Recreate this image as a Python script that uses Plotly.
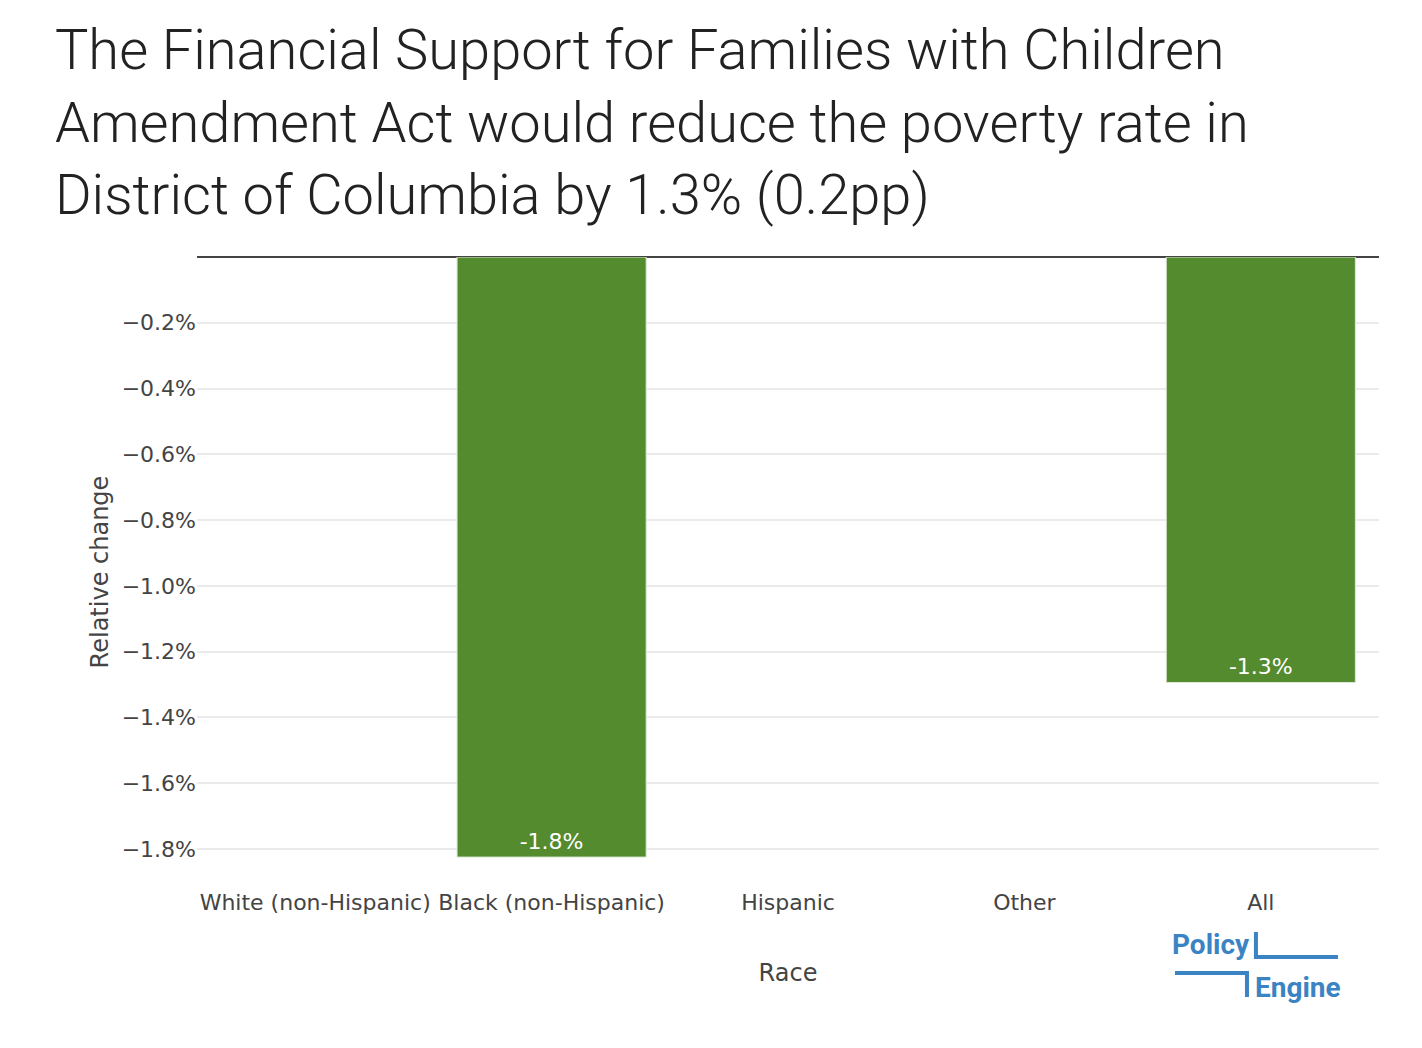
import plotly.graph_objects as go

# poverty rate relative change by race (fractions)
races = ["White (non-Hispanic)", "Black (non-Hispanic)", "Hispanic", "Other", "All"]
relative_change = [0.0, -0.01825, 0.0, 0.0, -0.01294]
bar_labels = [f"{v:.1%}" if v != 0 else "" for v in relative_change]
y_ticks = [-0.002, -0.004, -0.006, -0.008, -0.010, -0.012, -0.014, -0.016, -0.018]

title_text = ("The Financial Support for Families with Children<br>"
              "Amendment Act would reduce the poverty rate in<br>"
              "District of Columbia by 1.3% (0.2pp)")

GREEN = "#558B2F"
BLUE = "#3B84C4"
TICK_FONT = "Verdana, DejaVu Sans, sans-serif"


def main():
    fig = go.Figure()
    fig.add_trace(go.Bar(
        x=races, y=relative_change,
        text=bar_labels,
        textposition="inside",
        insidetextanchor="end",
        textfont=dict(family=TICK_FONT, size=22, color="white"),
        marker=dict(color=GREEN,
                    line=dict(color="#DDE8D5",
                              width=[0 if v == 0 else 1 for v in relative_change])),
        hoverinfo="skip",
    ))

    # the page body adds an 8px offset, so margins are shifted by that
    fig.update_layout(
        width=1422, height=1048,
        plot_bgcolor="white", paper_bgcolor="white",
        showlegend=False,
        bargap=0.2,
        margin=dict(l=189, r=51, t=249, b=169),
        font=dict(family=TICK_FONT, size=22, color="#444"),
        title=dict(
            text=title_text,
            x=0.033, xref="container", xanchor="left",
            y=0.942, yref="container", yanchor="top",
            font=dict(family="Roboto", size=56, color="#222", weight=300),
        ),
        uniformtext=dict(mode="show", minsize=22),
    )

    fig.update_xaxes(
        title=dict(text="Race", font=dict(size=24), standoff=50),
        tickfont=dict(size=22),
        showgrid=False,
    )
    fig.update_yaxes(
        title=dict(text="Relative change", font=dict(size=24), standoff=6),
        range=[-0.01916, 0],
        tickmode="array", tickvals=y_ticks,
        tickformat=".1%",
        tickfont=dict(size=22),
        gridcolor="#EBEBEB", gridwidth=1.5,
        zeroline=True, zerolinecolor="#444", zerolinewidth=2,
    )

    # PolicyEngine logo
    logo_font = dict(family="Roboto", size=28, color=BLUE)
    fig.add_annotation(text="<b>Policy</b>", x=0.8579, y=-0.092, xref="paper", yref="paper",
                       xanchor="center", yanchor="middle", showarrow=False, font=logo_font)
    fig.add_annotation(text="<b>Engine</b>", x=0.9315, y=-0.160, xref="paper", yref="paper",
                       xanchor="center", yanchor="middle", showarrow=False, font=logo_font)
    fig.add_shape(type="path", xref="paper", yref="paper",
                  path="M 0.8959 -0.0714 L 0.8959 -0.1111 L 0.9653 -0.1111",
                  line=dict(color=BLUE, width=4))
    fig.add_shape(type="path", xref="paper", yref="paper",
                  path="M 0.8274 -0.1365 L 0.8883 -0.1365 L 0.8883 -0.1746",
                  line=dict(color=BLUE, width=4))

    fig.write_html("out.html")


if __name__ == "__main__":
    main()
